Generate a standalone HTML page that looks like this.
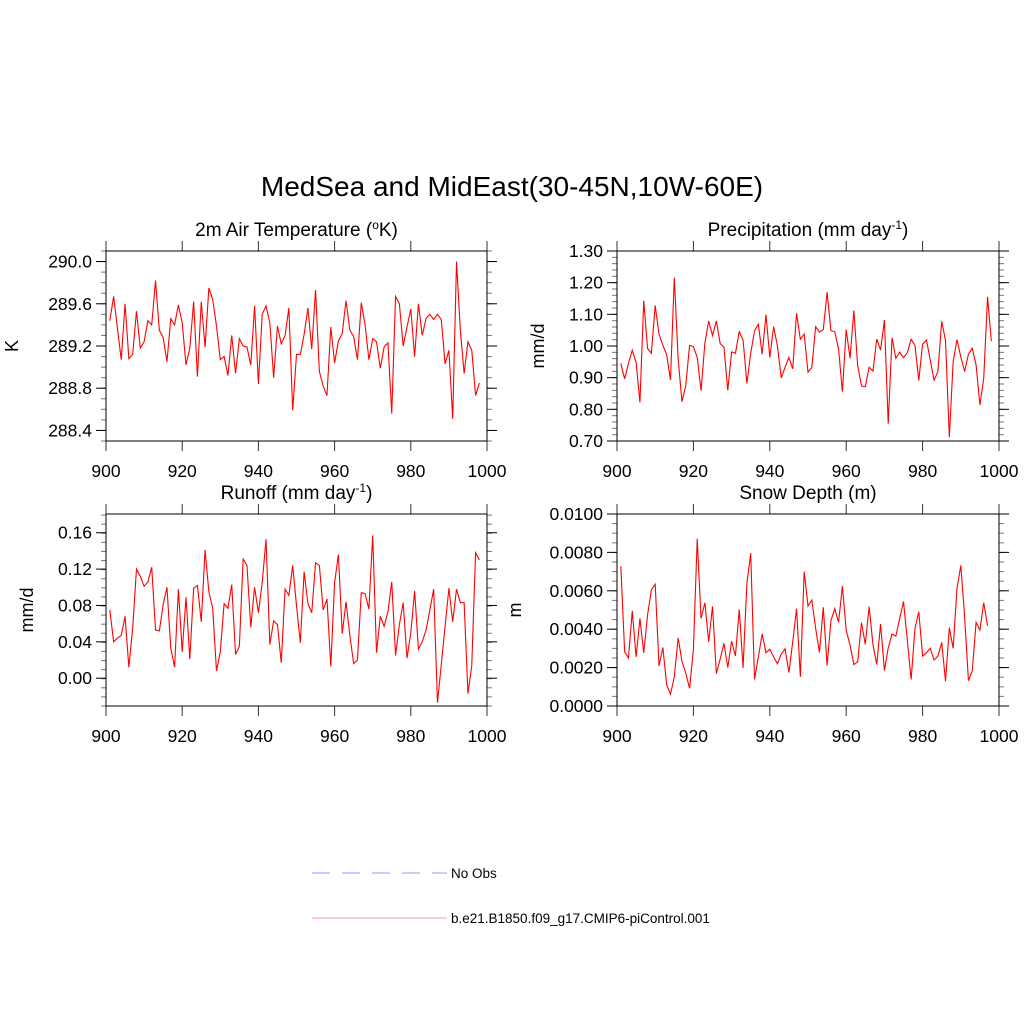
<!DOCTYPE html>
<html><head><meta charset="utf-8">
<style>
body{margin:0;background:#fff;}
svg{display:block;font-family:"Liberation Sans",Arial,sans-serif;}
</style></head>
<body>
<svg id="fig" width="1024" height="1024" viewBox="0 0 1024 1024" xmlns="http://www.w3.org/2000/svg">
<rect width="1024" height="1024" fill="#fff"/>
<text x="512" y="196" font-size="28" text-anchor="middle">MedSea and MidEast(30-45N,10W-60E)</text>
<g id="panels"></g>
<g>
<line x1="312" y1="873" x2="447" y2="873" stroke="#aab0ff" stroke-width="1.2" stroke-dasharray="18,12"/>
<text x="451" y="878" font-size="13.5">No Obs</text>
<line x1="312" y1="918" x2="447" y2="918" stroke="#ffb0b0" stroke-width="1.2"/>
<text x="451" y="923" font-size="13.5">b.e21.B1850.f09_g17.CMIP6-piControl.001</text>
</g>
</svg>
<script>
const years = Array.from({length:98},(_,i)=>901+i);
const xTicks = [900,920,940,960,980,1000];
const tasValues = [289.44,289.67,289.37,289.07,289.60,289.08,289.12,289.53,289.18,289.24,289.44,289.40,289.82,289.35,289.28,289.05,289.46,289.40,289.59,289.42,289.02,289.18,289.62,288.91,289.62,289.19,289.75,289.64,289.39,289.07,289.10,288.92,289.30,288.94,289.27,289.20,289.19,289.02,289.58,288.84,289.50,289.58,289.42,288.90,289.39,289.22,289.30,289.56,288.59,289.12,289.12,289.31,289.56,289.17,289.73,288.96,288.82,288.73,289.38,289.04,289.25,289.32,289.63,289.35,289.29,289.07,289.61,289.40,289.07,289.27,289.24,288.99,289.19,289.23,288.56,289.67,289.60,289.20,289.38,289.55,289.10,289.60,289.30,289.46,289.50,289.45,289.50,289.45,289.03,289.16,288.51,290.00,289.35,288.94,289.24,289.16,288.73,288.85];
const tasTicks = ["288.4","288.8","289.2","289.6","290.0"];
const precValues = [0.945,0.896,0.945,0.987,0.948,0.822,1.143,0.992,0.977,1.128,1.037,1.003,0.972,0.893,1.216,0.961,0.824,0.875,1.002,0.998,0.964,0.859,1.008,1.079,1.033,1.079,1.008,0.996,0.860,0.981,0.977,1.045,1.019,0.882,0.977,1.048,1.069,0.974,1.099,0.964,1.061,1.000,0.899,0.933,0.964,0.928,1.103,1.021,1.038,0.917,0.932,1.061,1.044,1.052,1.170,1.049,1.045,0.991,0.856,1.052,0.961,1.112,0.939,0.874,0.871,0.933,0.921,1.022,0.987,1.082,0.755,1.026,0.961,0.981,0.963,0.979,1.021,1.002,0.891,1.006,1.019,0.956,0.892,0.919,1.078,1.017,0.712,0.951,1.020,0.966,0.919,0.974,0.993,0.940,0.814,0.898,1.155,1.015];
const precTicks = ["0.70","0.80","0.90","1.00","1.10","1.20","1.30"];
const runoffValues = [0.075,0.040,0.044,0.047,0.068,0.012,0.055,0.120,0.112,0.101,0.106,0.122,0.053,0.052,0.081,0.100,0.033,0.012,0.098,0.029,0.089,0.021,0.099,0.102,0.062,0.141,0.095,0.077,0.008,0.029,0.082,0.077,0.103,0.026,0.035,0.131,0.124,0.056,0.100,0.072,0.105,0.153,0.037,0.063,0.059,0.017,0.098,0.091,0.124,0.080,0.039,0.117,0.082,0.072,0.127,0.124,0.075,0.087,0.013,0.105,0.136,0.049,0.084,0.047,0.016,0.020,0.094,0.093,0.076,0.157,0.028,0.068,0.057,0.073,0.106,0.025,0.059,0.083,0.022,0.050,0.096,0.032,0.040,0.053,0.075,0.098,-0.027,0.015,0.057,0.099,0.062,0.098,0.083,0.083,-0.017,0.014,0.138,0.130];
const runoffTicks = ["0.00","0.04","0.08","0.12","0.16"];
const snowValues = [0.00728,0.00282,0.00251,0.00495,0.00256,0.00456,0.00277,0.00474,0.00605,0.00634,0.00209,0.00305,0.00111,0.00061,0.00152,0.00355,0.00233,0.00172,0.00092,0.00296,0.00871,0.00456,0.00538,0.00334,0.00519,0.00169,0.00244,0.00326,0.00200,0.00338,0.00261,0.00503,0.00199,0.00639,0.00796,0.00139,0.00256,0.00375,0.00277,0.00296,0.00256,0.00220,0.00270,0.00298,0.00174,0.00334,0.00507,0.00152,0.00700,0.00521,0.00552,0.00404,0.00279,0.00514,0.00211,0.00444,0.00507,0.00436,0.00624,0.00395,0.00317,0.00216,0.00230,0.00434,0.00321,0.00517,0.00321,0.00216,0.00427,0.00185,0.00303,0.00375,0.00364,0.00456,0.00544,0.00343,0.00138,0.00404,0.00491,0.00260,0.00277,0.00301,0.00239,0.00260,0.00331,0.00129,0.00408,0.00300,0.00613,0.00732,0.00465,0.00132,0.00183,0.00436,0.00395,0.00538,0.00418];
const snowTicks = ["0.0000","0.0020","0.0040","0.0060","0.0080","0.0100"];

const NS="http://www.w3.org/2000/svg";
function mk(tag,attrs,parent){const e=document.createElementNS(NS,tag);for(const k in attrs)e.setAttribute(k,attrs[k]);parent.appendChild(e);return e;}
const root=document.getElementById('panels');

function panel(cfg){
  const g=mk('g',{},root);
  
  
  const L=cfg.x0,R=cfg.x1,T=cfg.y0,B=cfg.y1;
  const xs=v=>L+(v-900)/100*(R-L);
  const ys=v=>B-(v-cfg.ymin)/(cfg.ymax-cfg.ymin)*(B-T);
  for(let v=cfg.ymin;v<=cfg.ymax+1e-9;v+=cfg.minor){
    const y=ys(v);
    const m1=mk('line',{x1:L-5,x2:L,y1:y,y2:y,stroke:'#777','stroke-width':1},g);
    
    
    const m2=mk('line',{x1:R,x2:R+5,y1:y,y2:y,stroke:'#777','stroke-width':1},g);
    
    
  }
  cfg.ticks.forEach(t=>{
    const y=ys(parseFloat(t));
    const a=mk('line',{x1:L-10,x2:L,y1:y,y2:y,stroke:'#000','stroke-width':1},g);
    
    
    const b=mk('line',{x1:R,x2:R+10,y1:y,y2:y,stroke:'#000','stroke-width':1},g);
    
    
    const tx=mk('text',{x:L-14,y:y+6,'font-size':17.5,'text-anchor':'end'},g);
    tx.textContent=t;
    
    
  });
  xTicks.forEach(t=>{
    const x=xs(t);
    const a=mk('line',{x1:x,x2:x,y1:B,y2:B+10,stroke:'#333','stroke-width':1},g);
    
    
    const b=mk('line',{x1:x,x2:x,y1:T-10,y2:T,stroke:'#333','stroke-width':1},g);
    
    
    const tx=mk('text',{x:x,y:B+36,'font-size':17.5,'text-anchor':'middle'},g);
    tx.textContent=t;
    
    
  });
  const fr=mk('rect',{x:L,y:T,width:R-L,height:B-T,fill:'none',stroke:'#000','stroke-width':1},g);
  
  
  const pts=cfg.values.map((v,i)=>xs(years[i]).toFixed(2)+','+ys(v).toFixed(2)).join(' ');
  const pl=mk('polyline',{points:pts,fill:'none',stroke:'#ff0000','stroke-width':1.1,'stroke-linejoin':'miter'},g);
  
  
  const ti=mk('text',{x:(L+R)/2,y:T-15,'font-size':19,'text-anchor':'middle'},g);
  ti.innerHTML=cfg.title;
  
  
  const yt=mk('text',{x:0,y:0,'font-size':18,'text-anchor':'middle',transform:`translate(${cfg.ylx},${(T+B)/2}) rotate(-90)`},g);
  yt.textContent=cfg.ylabel;
  
  
}
panel({name:'air-temperature-panel',x0:106,x1:487,y0:251,y1:441,ymin:288.3,ymax:290.1,minor:0.1,ticks:tasTicks,values:tasValues,
  title:'2m Air Temperature (<tspan font-size="12" dy="-7">o</tspan><tspan dy="7">K)</tspan>',ylabel:'K',ylx:18});
panel({name:'precipitation-panel',x0:617,x1:999,y0:251,y1:441,ymin:0.70,ymax:1.30,minor:0.02,ticks:precTicks,values:precValues,
  title:'Precipitation (mm day<tspan font-size="12" dy="-7">-1</tspan><tspan dy="7">)</tspan>',ylabel:'mm/d',ylx:544});
panel({name:'runoff-panel',x0:106,x1:487,y0:514,y1:706,ymin:-0.0306,ymax:0.1806,minor:0.01,ticks:runoffTicks,values:runoffValues,
  title:'Runoff (mm day<tspan font-size="12" dy="-7">-1</tspan><tspan dy="7">)</tspan>',ylabel:'mm/d',ylx:33});
panel({name:'snow-depth-panel',x0:617,x1:999,y0:514,y1:706,ymin:0,ymax:0.01,minor:0.0005,ticks:snowTicks,values:snowValues,
  title:'Snow Depth (m)',ylabel:'m',ylx:521});
</script>
</body></html>
